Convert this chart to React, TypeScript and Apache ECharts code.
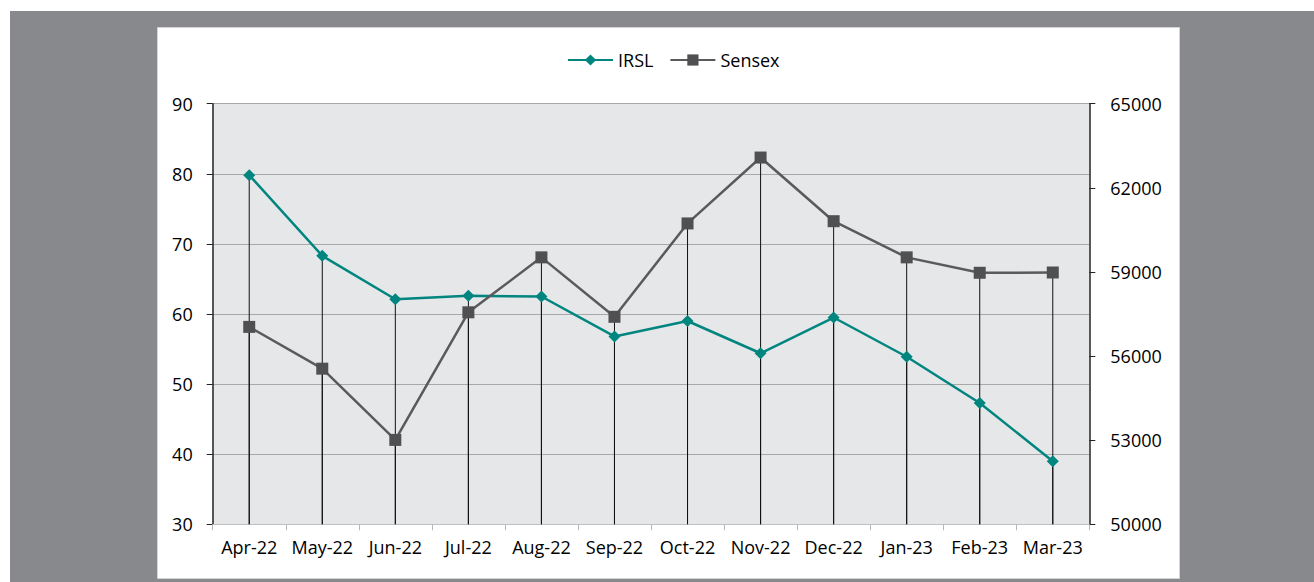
import React, { useEffect, useRef } from "react";
import * as echarts from "echarts";

const categories = ["Apr-22", "May-22", "Jun-22", "Jul-22", "Aug-22", "Sep-22", "Oct-22", "Nov-22", "Dec-22", "Jan-23", "Feb-23", "Mar-23"];
const irsl = [79.8, 68.3, 62.1, 62.6, 62.5, 56.8, 59.0, 54.4, 59.5, 53.9, 47.3, 39.0];
const sensex = [57040, 55550, 53010, 57560, 59520, 57400, 60730, 63080, 60810, 59520, 58970, 58980];
const leftTicks = { min: 30, max: 90, interval: 10 };
const rightTicks = { min: 50000, max: 65000, interval: 3000 };

const FONT = "'Open Sans', 'Noto Sans', sans-serif";

export default function App() {
  const ref = useRef<HTMLDivElement>(null);
  useEffect(() => {
    if (!ref.current) return;
    const chart = echarts.init(ref.current, undefined, { renderer: "svg" });
    chart.setOption({
      animation: false,
      textStyle: { fontFamily: FONT, color: "#000" },
      graphic: {
        elements: [
          { type: "rect", z: -100, silent: true, shape: { x: 10, y: 11, width: 1304, height: 571 }, style: { fill: "#88898c" } },
          { type: "rect", z: -99, silent: true, shape: { x: 157.5, y: 27.5, width: 1022, height: 551 }, style: { fill: "#ffffff", stroke: "#d4d4d4", lineWidth: 1 } },
        ],
      },
      legend: {
        top: 46,
        left: 562,
        itemWidth: 45,
        itemHeight: 14,
        itemGap: 16,
        textStyle: { fontFamily: FONT, fontSize: 18, color: "#000" },
        data: ["IRSL", "Sensex"],
      },
      grid: {
        left: 212.7,
        right: 224.7,
        top: 103.7,
        bottom: 57.7,
        show: true,
        backgroundColor: "#e6e7e9",
        borderWidth: 0,
      },
      xAxis: {
        type: "category",
        data: categories,
        boundaryGap: true,
        axisLine: { show: true, lineStyle: { color: "#c0c0c0", width: 1 } },
        axisTick: { show: true, length: 6, lineStyle: { color: "#b8b8b8" } },
        axisLabel: { fontFamily: FONT, fontSize: 18, color: "#000", margin: 14, interval: 0 },
      },
      yAxis: [
        {
          type: "value",
          min: leftTicks.min,
          max: leftTicks.max,
          interval: leftTicks.interval,
          axisLine: { show: true, lineStyle: { color: "#222", width: 1.5 } },
          axisTick: { show: true, length: 6, lineStyle: { color: "#222" } },
          splitLine: { show: true, lineStyle: { color: "#a8a8a8", width: 1 } },
          axisLabel: { fontFamily: FONT, fontSize: 18, color: "#000", margin: 20 },
        },
        {
          type: "value",
          min: rightTicks.min,
          max: rightTicks.max,
          interval: rightTicks.interval,
          position: "right",
          axisLine: { show: true, lineStyle: { color: "#222", width: 1.5 } },
          axisTick: { show: true, length: 6, lineStyle: { color: "#222" } },
          splitLine: { show: false },
          axisLabel: { fontFamily: FONT, fontSize: 18, color: "#000", margin: 21, formatter: (v: number) => String(v) },
        },
      ],
      series: [
        {
          name: "dropIRSL",
          type: "bar",
          yAxisIndex: 0,
          data: irsl,
          barWidth: 1,
          barGap: "-100%",
          itemStyle: { color: "#111" },
          silent: true,
          z: 1,
        },
        {
          name: "dropSensex",
          type: "bar",
          yAxisIndex: 1,
          data: sensex,
          barWidth: 1,
          barGap: "-100%",
          itemStyle: { color: "#111" },
          silent: true,
          z: 1,
        },
        {
          name: "IRSL",
          type: "line",
          yAxisIndex: 0,
          data: irsl,
          symbol: "diamond",
          symbolSize: 12,
          lineStyle: { color: "#00857f", width: 2.5 },
          itemStyle: { color: "#00857f" },
          z: 3,
        },
        {
          name: "Sensex",
          type: "line",
          yAxisIndex: 1,
          data: sensex,
          symbol: "rect",
          symbolSize: 12,
          lineStyle: { color: "#5a5a5c", width: 2.5 },
          itemStyle: { color: "#505053" },
          z: 3,
        },
      ],
    });
    return () => chart.dispose();
  }, []);
  return <div ref={ref} style={{ position: "absolute", left: 0, top: 0, width: 1314, height: 582 }} />;
}
